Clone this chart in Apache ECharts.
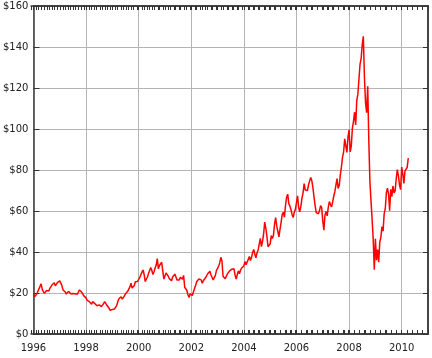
<!DOCTYPE html>
<html>
<head>
<meta charset="utf-8">
<script src="https://cdn.jsdelivr.net/npm/echarts@6/dist/echarts.min.js"></script>
<style>
html,body{margin:0;padding:0;background:#fff;}
#c{width:432px;height:358px;}
</style>
</head>
<body>
<div id="c"></div>
<script>
// Oil price, USD per barrel, sampled twice a month (1st and 15th), Jan 1996 - Apr 2010
const startYear = 1996;
const samplesPerYear = 24;
const p1996 = [19.6,18.2,17.9,19.5,19.8,22.0,22.5,24.5,21.8,21.0,19.8,20.5,21.2,22.0,21.0,22.2,22.5,24.0,24.5,25.0,23.5,24.0,25.2,25.6];
const p1997 = [25.9,24.8,23.5,21.5,21.0,20.5,19.5,19.2,20.8,21.2,19.6,19.0,19.8,19.5,19.6,20.3,19.4,20.0,21.5,21.0,20.4,19.6,18.6,18.3];
const p1998 = [17.6,16.4,16.2,15.8,15.4,14.5,15.8,15.2,14.8,14.6,13.8,13.2,14.2,13.8,13.4,13.0,14.8,15.8,15.2,14.0,13.4,12.6,11.5,11.2];
const p1999 = [12.0,12.6,12.2,11.9,14.0,15.8,17.2,17.6,18.2,17.0,17.8,18.6,19.6,20.3,20.8,21.9,23.0,24.8,22.4,21.6,23.6,25.5,26.2,25.6];
const p2000 = [25.8,27.6,28.4,30.2,31.2,29.0,25.6,24.8,27.8,29.5,30.2,32.4,31.0,29.0,30.4,32.2,33.6,36.8,31.8,33.4,33.8,35.0,30.8,26.8];
const p2001 = [27.2,29.8,29.5,28.2,27.0,26.2,26.0,27.8,28.5,29.2,27.8,26.4,26.0,26.4,27.6,27.2,26.8,28.6,22.8,22.0,21.2,19.0,17.8,19.6];
const p2002 = [20.4,18.8,20.6,21.4,23.8,25.6,26.2,26.8,27.2,26.4,24.8,26.0,26.8,27.4,27.0,29.4,29.6,30.6,28.8,28.0,26.4,25.6,28.6,31.0];
const p2003 = [32.0,33.2,34.8,37.4,35.6,28.2,28.4,27.0,26.2,29.4,30.0,30.8,30.4,31.6,31.4,31.8,28.6,26.8,29.0,30.8,29.4,31.2,32.2,32.6];
const p2004 = [33.2,35.4,33.8,34.6,36.4,37.8,35.8,37.4,39.8,41.2,39.0,37.2,39.6,41.0,43.8,46.6,42.6,45.0,48.8,54.6,51.6,47.8,42.6,42.0];
const p2005 = [44.0,48.0,46.6,48.2,53.6,56.8,52.6,50.0,47.4,51.2,54.6,58.4,59.4,57.0,62.8,66.8,68.2,63.6,62.4,60.6,58.2,56.8,59.4,60.8];
const p2006 = [61.4,67.4,61.6,59.6,62.4,66.2,69.0,73.4,70.2,69.4,70.0,72.8,74.6,76.4,74.8,71.4,66.8,62.6,59.2,58.4,58.6,60.2,62.6,61.6];
const p2007 = [55.2,50.6,58.0,59.8,57.6,61.8,64.6,63.2,62.0,64.4,67.2,69.4,72.6,75.8,71.0,72.4,77.6,81.4,86.2,88.8,95.2,94.6,88.6,96.0];
const p2008 = [99.6,88.8,91.6,100.4,103.6,108.2,102.0,113.8,117.0,124.4,131.6,134.4,141.2,145.2,125.0,113.0,108.0,120.8,94.0,74.2,64.8,56.0,46.2,31.4];
const p2009 = [46.4,36.0,41.2,35.0,44.8,47.2,52.4,50.2,58.6,61.0,68.8,71.2,68.4,60.2,70.6,67.0,72.2,68.8,69.8,75.6,80.2,77.2,72.6,70.4];
const p2010 = [81.4,78.0,73.4,79.6,79.8,81.2,85.8];

const xTickYears = [1996,1998,2000,2002,2004,2006,2008,2010];
const yTicks = [0,20,40,60,80,100,120,140,160];

const prices = [].concat(p1996,p1997,p1998,p1999,p2000,p2001,p2002,p2003,p2004,p2005,p2006,p2007,p2008,p2009,p2010);
const seriesData = prices.map((v,i)=>[startYear + i/samplesPerYear, v]);

const xMin = xTickYears[0], xMax = 2011;
const yMin = yTicks[0], yMax = yTicks[yTicks.length-1];
const minorPerMajor = 10; // 0.2-year ticks, gridline every 2 years
function axisDark(){ return {color:'#3a3a3a', width:1.5}; }
function tickStyle(){ return {color:'#333333', width:1}; }
function font(extra){ return Object.assign({fontFamily:'DejaVu Sans', fontSize:10, color:'#222'}, extra); }
const vGridColors = ['#b4b4b4'].concat(new Array(minorPerMajor-1).fill('rgba(0,0,0,0)'));

function yearLabel(v){
  const r = Math.round(v);
  return (Math.abs(v - r) < 1e-6 && xTickYears.indexOf(r) >= 0) ? String(r) : '';
}
const plotRect = {left:31, right:4, top:6, bottom:24};

const chart = echarts.init(document.getElementById('c'));
chart.setOption({
  animation:false,
  grid:[Object.assign({}, plotRect), Object.assign({}, plotRect)],
  xAxis:[
    {type:'value', gridIndex:0, min:xMin, max:xMax, interval:0.2, position:'bottom',
     axisLine:{show:true, onZero:false, lineStyle:axisDark()},
     axisTick:{show:true, inside:true, length:4, lineStyle:tickStyle()},
     splitLine:{show:false},
     axisLabel:font({show:true, margin:9, formatter:yearLabel})},
    {type:'value', gridIndex:0, min:xMin, max:xMax, interval:0.2, position:'top',
     axisLine:{show:true, onZero:false, lineStyle:axisDark()},
     axisTick:{show:true, inside:true, length:4, lineStyle:tickStyle()},
     splitLine:{show:true, lineStyle:{color:vGridColors, width:1}},
     axisLabel:{show:false}},
    // tick-only axes on an overlaid grid
    {type:'value', gridIndex:1, min:xMin, max:xMax, interval:0.2, position:'bottom',
     axisLine:{show:true, onZero:false, lineStyle:axisDark()},
     axisTick:{show:true, inside:true, length:4, lineStyle:tickStyle()},
     splitLine:{show:false}, axisLabel:{show:false}},
    {type:'value', gridIndex:1, min:xMin, max:xMax, interval:0.2, position:'top',
     axisLine:{show:true, onZero:false, lineStyle:axisDark()},
     axisTick:{show:true, inside:true, length:4, lineStyle:tickStyle()},
     splitLine:{show:false}, axisLabel:{show:false}}
  ],
  yAxis:[
    {type:'value', gridIndex:0, min:yMin, max:yMax, interval:20, position:'left',
     axisLine:{show:true, onZero:false, lineStyle:axisDark()},
     axisTick:{show:true, inside:true, length:6, lineStyle:tickStyle()},
     splitLine:{show:true, lineStyle:{color:'#b4b4b4', width:1}},
     axisLabel:font({margin:5, formatter:v=>'$'+v})},
    {type:'value', gridIndex:0, min:yMin, max:yMax, interval:20, position:'right',
     axisLine:{show:true, onZero:false, lineStyle:axisDark()},
     axisTick:{show:true, inside:true, length:5, lineStyle:tickStyle()},
     splitLine:{show:false},
     axisLabel:{show:false}},
    {type:'value', gridIndex:1, min:yMin, max:yMax, interval:20, position:'right',
     axisLine:{show:true, onZero:false, lineStyle:axisDark()},
     axisTick:{show:true, inside:true, length:5, lineStyle:tickStyle()},
     splitLine:{show:false},
     axisLabel:{show:false}}
  ],
  series:[{
    type:'line', xAxisIndex:0, yAxisIndex:0, data:seriesData,
    showSymbol:false, symbol:'none',
    lineStyle:{color:'#ff0000', width:1.5},
    z:5
  }]
});
</script>
</body>
</html>
